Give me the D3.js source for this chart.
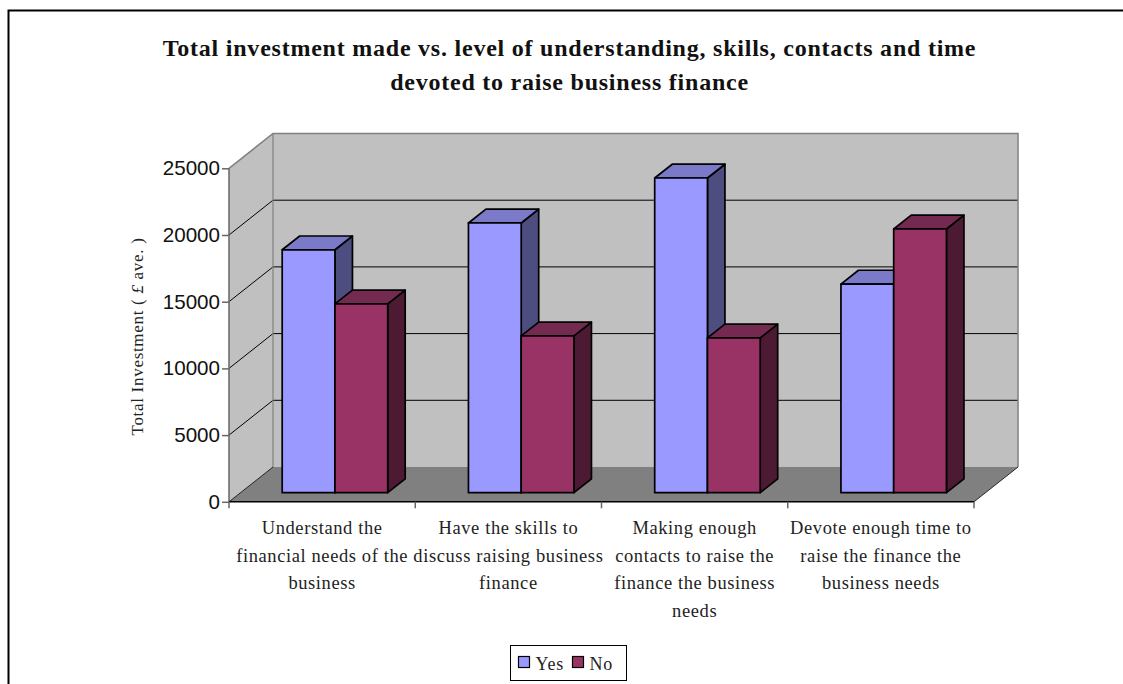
<!DOCTYPE html>
<html>
<head>
<meta charset="utf-8">
<script src="https://cdn.jsdelivr.net/npm/d3@7/dist/d3.min.js"></script>
<style>
html,body{margin:0;padding:0;background:#fff;overflow:hidden}
svg{display:block}
</style>
</head>
<body>
<svg id="chart" width="1123" height="684"></svg>
<script>
const categories = [
  ["Understand the","financial needs of the","business"],
  ["Have the skills to","discuss raising business","finance"],
  ["Making enough","contacts to raise the","finance the business","needs"],
  ["Devote enough time to","raise the finance the","business needs"]
];
const seriesNames = ["Yes","No"];
const yesValues = [18210, 20220, 23590, 15640];
const noValues = [14150, 11750, 11600, 19770];
const yTicks = [0,5000,10000,15000,20000,25000];
const titleLines = [
  "Total investment made vs. level of understanding, skills, contacts and time",
  "devoted to raise business finance"
];

const svg = d3.select("#chart");
const serif = "'Liberation Serif',serif";
const sans = "'Liberation Sans',sans-serif";

// Front plane of the 3D box and the depth offset of its back wall
const x = d3.scaleBand().domain(d3.range(categories.length)).range([229,974]);
const y = d3.scaleLinear().domain([0,25000]).range([501.8,168.3]);
const depth = {dx:44, dy:-34.8};

const colors = {
  Yes:{front:"#9999ff", top:"#7a7ac9", side:"#4d4d80"},
  No:{front:"#993366", top:"#732950", side:"#4d1a33"}
};

// Outer chart frame, open on the right and at the bottom
svg.append("path").attr("d","M8.5,684V10.5H1123").attr("fill","none").attr("stroke","#000").attr("stroke-width",2);

// Title
svg.append("g").selectAll("text").data(titleLines).join("text")
  .attr("x",569.5).attr("y",(d,i)=>55.5+i*34.5)
  .attr("text-anchor","middle")
  .attr("font-family",serif).attr("font-weight","bold").attr("font-size",24)
  .attr("letter-spacing",0.77)
  .attr("fill","#111").text(d=>d);

const pts = a => a.map(p=>p.join(",")).join(" ");
const x0 = x.range()[0], x1 = x.range()[1];
const y0 = y(0), yT = y(25000);
const walls = svg.append("g");

// Side wall, back wall and floor
walls.append("polygon")
  .attr("points",pts([[x0,y0],[x0,yT],[x0+depth.dx,yT+depth.dy],[x0+depth.dx,y0+depth.dy]]))
  .attr("fill","#c0c0c0");
walls.append("polygon")
  .attr("points",pts([[x0+depth.dx,yT+depth.dy],[x1+depth.dx,yT+depth.dy],[x1+depth.dx,y0+depth.dy],[x0+depth.dx,y0+depth.dy]]))
  .attr("fill","#c0c0c0");
walls.append("polygon")
  .attr("points",pts([[x0,y0],[x0+depth.dx,y0+depth.dy],[x1+depth.dx,y0+depth.dy],[x1,y0]]))
  .attr("fill","#808080");

// Gridlines wrap from the side wall onto the back wall
walls.selectAll("polyline.grid").data(yTicks.slice(1,-1)).join("polyline")
  .attr("class","grid")
  .attr("points",d=>pts([[x0,y(d)],[x0+depth.dx,y(d)+depth.dy],[x1+depth.dx,y(d)+depth.dy]]))
  .attr("fill","none").attr("stroke","#000").attr("stroke-width",1);

// Grey edges of the walls
walls.append("path")
  .attr("d",`M${x0},${yT}L${x0+depth.dx},${yT+depth.dy}H${x1+depth.dx}V${y0+depth.dy}`)
  .attr("fill","none").attr("stroke","#808080").attr("stroke-width",1.5);
walls.append("path")
  .attr("d",`M${x0+depth.dx},${yT+depth.dy}V${y0+depth.dy}`)
  .attr("fill","none").attr("stroke","#808080").attr("stroke-width",1.2);
walls.append("path")
  .attr("d",`M${x0},${y0}L${x0+depth.dx},${y0+depth.dy}M${x1},${y0}L${x1+depth.dx},${y0+depth.dy}`)
  .attr("fill","none").attr("stroke","#000").attr("stroke-width",0.8);

// Axes
const yAxis = d3.axisLeft(y).tickValues(yTicks).tickSize(7).tickPadding(2).tickFormat(d3.format("d"));
const gy = svg.append("g").attr("transform",`translate(${x0},0)`).call(yAxis);
gy.selectAll("text").attr("font-family",sans).attr("font-size",20.6).attr("fill","#111");
gy.selectAll("line").attr("stroke","#666").attr("stroke-width",1.5);
gy.select(".domain").attr("stroke","#666").attr("stroke-width",1.5).attr("d",`M0,${y0}V${yT}`);

const xAxis = d3.axisBottom(x).tickSize(0).tickFormat("");
const gx = svg.append("g").attr("transform",`translate(0,${y0})`).call(xAxis);
gx.select(".domain").attr("stroke","#000").attr("stroke-width",1.5).attr("d",`M${x0},0H${x1}`);
gx.selectAll(".tick").remove();
gx.selectAll("line.mark").data(d3.range(categories.length+1)).join("line")
  .attr("class","mark")
  .attr("x1",i=>i<categories.length?x(i):x1).attr("x2",i=>i<categories.length?x(i):x1)
  .attr("y1",0).attr("y2",6.5).attr("stroke","#666").attr("stroke-width",1.5);

// Bars sit slightly back from the front plane of the box
const barDepth = {dx:17.5, dy:-13.8};
const baseOffset = {dx:53.2, dy:-9.1};
const inner = d3.scaleBand().domain(seriesNames).range([0,105.5]);
const rows = seriesNames.flatMap(name => (name==="Yes"?yesValues:noValues).map((v,i)=>({name,v,i})));
const barY = v => y(v) + baseOffset.dy;

// Yes bars are painted first within a group so No overlaps their side face
const bars = svg.append("g").attr("stroke","#000").attr("stroke-width",1.7).attr("stroke-linejoin","round");
const bar = bars.selectAll("g").data(rows.sort((a,b)=>a.i-b.i)).join("g");
bar.append("polygon").attr("fill",d=>colors[d.name].side)
  .attr("points",d=>{const l=x(d.i)+baseOffset.dx+inner(d.name)+inner.bandwidth();
    return pts([[l,barY(d.v)],[l+barDepth.dx,barY(d.v)+barDepth.dy],[l+barDepth.dx,barY(0)+barDepth.dy],[l,barY(0)]]);});
bar.append("polygon").attr("fill",d=>colors[d.name].top)
  .attr("points",d=>{const l=x(d.i)+baseOffset.dx+inner(d.name),r=l+inner.bandwidth();
    return pts([[l,barY(d.v)],[l+barDepth.dx,barY(d.v)+barDepth.dy],[r+barDepth.dx,barY(d.v)+barDepth.dy],[r,barY(d.v)]]);});
bar.append("rect").attr("fill",d=>colors[d.name].front)
  .attr("x",d=>x(d.i)+baseOffset.dx+inner(d.name)).attr("width",inner.bandwidth())
  .attr("y",d=>barY(d.v)).attr("height",d=>barY(0)-barY(d.v));

// Category labels
const catG = svg.append("g").selectAll("g").data(categories).join("g")
  .attr("transform",(d,i)=>`translate(${x(i)+x.bandwidth()/2},0)`);
catG.selectAll("text").data(d=>d).join("text")
  .attr("y",(d,i)=>534.3+i*27.4)
  .attr("text-anchor","middle").attr("font-family",serif).attr("font-size",18.5)
  .attr("letter-spacing",0.6)
  .attr("fill","#222").text(d=>d);

// Vertical axis title
const axisTitle = svg.append("text").attr("transform","translate(143,336.5) rotate(-90)")
  .attr("text-anchor","middle").attr("font-family",serif).attr("font-size",17)
  .attr("letter-spacing",0.7).attr("fill","#222");
axisTitle.append("tspan").text("Total Investment ( ");
axisTitle.append("tspan").attr("font-style","italic").text("£");
axisTitle.append("tspan").text(" ave. )");

// Legend
const lg = svg.append("g");
lg.append("rect").attr("x",510.5).attr("y",645.5).attr("width",116).attr("height",35)
  .attr("fill","#fff").attr("stroke","#000").attr("stroke-width",1);
const legendX = d3.scaleOrdinal().domain(seriesNames).range([518.5,572.5]);
const item = lg.selectAll("g").data(seriesNames).join("g").attr("transform",d=>`translate(${legendX(d)},656.5)`);
item.append("rect").attr("width",11).attr("height",11)
  .attr("fill",d=>colors[d].front).attr("stroke","#000").attr("stroke-width",1.2);
item.append("text").attr("x",17).attr("y",13.5).attr("font-family",serif).attr("font-size",18)
  .attr("letter-spacing",0.8).attr("fill","#222").text(d=>d);
</script>
</body>
</html>
